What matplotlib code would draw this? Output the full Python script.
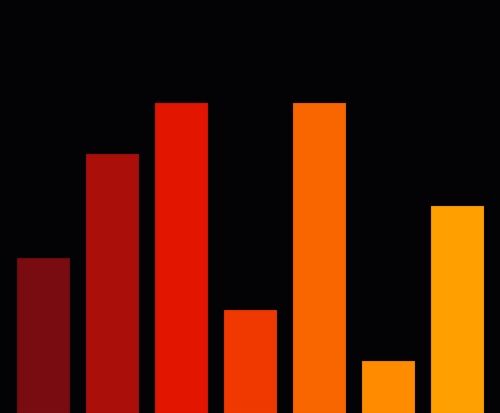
import matplotlib
matplotlib.use("Agg")
import matplotlib.pyplot as plt

# values (y range 0..8)
categories = ["A", "B", "C", "D", "E", "F", "G"]
values = [3, 5, 6, 2, 6, 1, 4]
colors = ["#780c10", "#ab0f0a", "#e11500", "#ef3900", "#f96600", "#ff8c00", "#ffa000"]
edges = ["#6a0a0e", "#9a0d09", "#cf1300", "#dc3400", "#e55d00", "#eb8000", "#eb9300"]

bg = "#030306"
fig = plt.figure(figsize=(5, 4.14), dpi=100, facecolor=bg)
ax = fig.add_axes([0, 0, 1, 1])
ax.set_facecolor(bg)

x = range(len(categories))
ax.bar(x, values, width=0.75, color=colors, edgecolor=edges, linewidth=0.8)

ax.set_xlim(-0.623, len(categories) - 1 + 0.623)
ax.set_ylim(0, 8)
ax.axis("off")

fig.savefig("out.png", dpi=100, facecolor=bg)
